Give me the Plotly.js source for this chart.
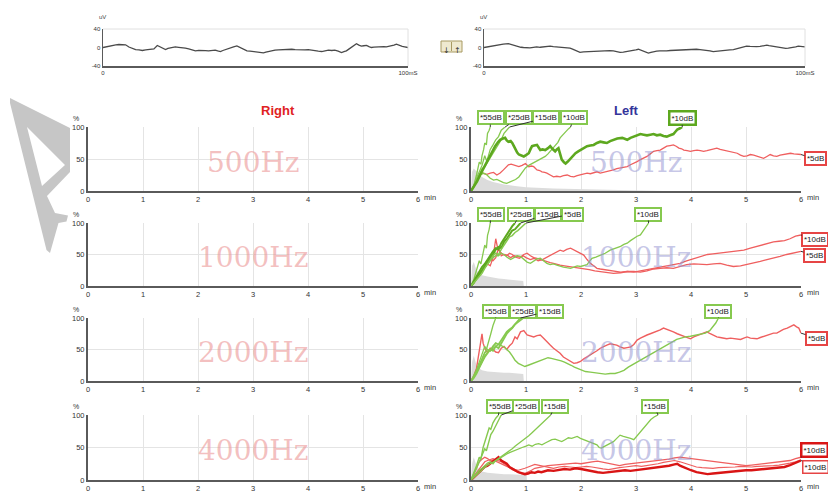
<!DOCTYPE html>
<html><head><meta charset="utf-8">
<script src="https://cdn.plot.ly/plotly-3.0.1.min.js"></script>
<style>html,body{margin:0;padding:0;background:#fff;}#chart{width:828px;height:492px;}</style>
</head><body><div id="chart"></div>
<script>
// ---------------- DATA ----------------
// EEG traces: [ms, uV]
const eegLeft = [[0,0],[1.5,2.5],[3.1,4.4],[4.2,5.5],[5.2,6.5],[6.3,6.0],[7.4,5.8],[8.5,1.0],[9.6,-2.5],[10.7,-4.4],[11.8,-5.2],[12.9,-6.5],[14.0,-5.0],[15.0,-4.4],[16.0,-3.5],[16.7,-2.9],[17.8,4.4],[18.6,2.0],[19.4,0],[20.5,-4.4],[21.3,-2.0],[22.1,-0.7],[23.0,0.5],[23.7,1.5],[24.8,0.5],[25.9,0],[27.0,-1.5],[28.1,-2.9],[29.2,-5.5],[30.3,-7.3],[31.4,-6.0],[32.5,-5.8],[33.6,-6.8],[34.6,-7.3],[35.7,-6.0],[36.8,-5.8],[37.6,-7.5],[38.5,-8.7],[39.3,-6.5],[40.1,-4.4],[40.9,-3.0],[41.7,-1.5],[42.8,1.5],[43.9,3.6],[44.7,1.0],[45.5,-1.5],[46.3,-4.5],[47.2,-7.3],[48.2,-8.0],[49.3,-8.7],[50.1,-10.0],[51.0,-10.9],[51.8,-11.8],[52.6,-11.6],[53.4,-10.0],[54.2,-8.7],[55.3,-7.0],[56.4,-5.8],[57.5,-5.0],[58.6,-4.4],[59.7,-3.5],[60.8,-2.9],[61.9,-3.8],[63.0,-4.4],[64.0,-5.0],[65.1,-5.8],[66.2,-5.0],[67.3,-4.4],[68.4,-6.0],[69.5,-7.3],[70.6,-8.0],[71.7,-8.7],[72.8,-7.0],[73.9,-5.8],[75.0,-6.5],[76.0,-5.8],[77.1,-8.0],[78.2,-10.9],[79.0,-9.0],[79.8,-7.3],[80.6,-3.5],[81.5,0],[82.3,4.0],[83.1,8.0],[83.9,5.0],[84.7,2.9],[85.5,3.8],[86.4,4.4],[87.2,2.0],[88.0,0],[88.8,1.0],[89.7,1.5],[90.5,2.0],[91.3,2.9],[92.1,2.0],[92.9,1.5],[93.7,2.5],[94.6,2.9],[95.4,5.0],[96.2,7.3],[96.8,5.5],[97.3,4.4],[98.1,2.5],[98.9,1.5],[100,0]];
const eegRight = [[0,0],[1.0,1.5],[1.9,3.0],[3.0,4.0],[3.9,5.3],[5.0,6.0],[6.0,7.5],[7.6,8.3],[8.4,6.5],[9.1,4.5],[10.7,1.5],[11.5,0.5],[12.3,0],[13.3,-0.5],[14.3,-0.8],[15.4,0.5],[16.4,1.5],[17.5,0.5],[18.5,1.5],[19.6,2.0],[20.6,3.0],[21.6,2.0],[22.6,1.5],[23.7,0.5],[24.7,0],[25.8,-0.5],[26.8,-1.5],[27.6,-3.5],[28.3,-6.0],[29.1,-8.5],[29.9,-10.6],[31.0,-9.5],[32.0,-9.1],[33.0,-8.0],[34.1,-7.5],[35.1,-8.5],[36.1,-8.3],[37.2,-7.0],[38.2,-6.0],[39.2,-6.8],[40.3,-7.5],[41.3,-9.0],[42.4,-10.6],[43.4,-10.0],[44.4,-9.1],[45.5,-7.5],[46.5,-6.0],[47.3,-5.0],[48.1,-3.8],[48.9,-6.0],[49.6,-9.1],[50.4,-11.0],[51.2,-12.1],[52.0,-10.5],[52.8,-9.1],[53.8,-8.0],[54.8,-7.5],[55.9,-8.0],[56.9,-7.5],[58.0,-6.5],[59.0,-6.0],[60.0,-6.8],[61.1,-6.0],[62.1,-5.5],[63.1,-5.3],[64.2,-4.0],[65.2,-3.0],[66.2,-3.8],[67.3,-4.5],[68.3,-5.0],[69.4,-6.0],[70.4,-7.5],[71.4,-9.1],[72.5,-8.0],[73.5,-7.5],[74.5,-6.5],[75.6,-6.0],[76.6,-5.0],[77.7,-4.5],[78.7,-2.5],[79.8,-0.8],[80.8,1.0],[81.8,3.0],[82.9,2.5],[83.9,3.0],[84.9,2.0],[86.0,2.3],[87.0,3.5],[88.1,5.3],[88.8,4.0],[89.6,3.0],[90.4,1.5],[91.2,0],[92.2,-1.0],[93.3,-2.3],[94.0,-2.0],[94.8,-1.5],[95.6,-0.8],[96.4,0],[97.1,1.5],[97.9,3.0],[99.0,2.0],[100,1.5]];

const freqLabels = ['500Hz','1000Hz','2000Hz','4000Hz'];
const xTicks = [0,1,2,3,4,5,6];
const yTicks = [0,50,100];

// Left ear, 500 Hz: [min, %]
const noise500 = [[0,0],[0.02,30],[0.05,35],[0.1,30],[0.15,26],[0.2,22],[0.3,17],[0.4,14],[0.5,12],[0.6,10],[0.8,8],[1.0,6],[1.5,4],[2.0,3],[2.5,2],[3.0,1],[3.5,0]];
const g55_500 = [[0,0],[0.05,8],[0.1,25],[0.13,35],[0.15,45],[0.18,42],[0.2,55],[0.23,65],[0.25,75],[0.28,72],[0.3,90],[0.33,95],[0.35,100]];
const g25_500 = [[0,0],[0.05,8],[0.1,20],[0.15,30],[0.2,40],[0.25,55],[0.28,48],[0.3,50],[0.35,65],[0.4,72],[0.45,80],[0.5,85],[0.55,95],[0.62,100]];
const g15_500 = [[0,0],[0.05,6],[0.1,15],[0.15,25],[0.2,35],[0.25,38],[0.3,45],[0.35,52],[0.4,60],[0.45,66],[0.5,75],[0.55,80],[0.6,90],[0.65,95],[0.7,100]];
const g10a_500 = [[0,0],[0.08,12],[0.17,25],[0.23,28],[0.29,25],[0.35,20],[0.41,17],[0.47,18],[0.53,15],[0.59,13],[0.65,12],[0.7,14],[0.75,15],[0.81,18],[0.87,22],[0.93,30],[0.99,36],[1.05,40],[1.11,43],[1.17,45],[1.23,49],[1.29,51],[1.35,54],[1.4,58],[1.44,62],[1.49,66],[1.53,70],[1.58,76],[1.62,83],[1.67,88],[1.72,93],[1.77,97],[1.81,100]];
const g10b_500 = [[0,0],[0.05,7],[0.11,15],[0.17,26],[0.23,36],[0.29,47],[0.35,57],[0.4,64],[0.44,70],[0.49,76],[0.53,80],[0.58,82],[0.62,83],[0.65,79],[0.68,77],[0.72,78],[0.75,75],[0.78,70],[0.81,64],[0.84,60],[0.87,57],[0.92,55],[0.96,54],[1.0,56],[1.05,59],[1.08,65],[1.11,70],[1.15,71],[1.2,72],[1.23,68],[1.26,64],[1.3,65],[1.35,64],[1.4,67],[1.44,70],[1.48,66],[1.53,62],[1.56,65],[1.59,67],[1.62,58],[1.65,49],[1.69,45],[1.72,43],[1.76,46],[1.81,51],[1.86,55],[1.9,59],[1.95,62],[1.99,64],[2.05,67],[2.11,70],[2.17,71],[2.23,72],[2.29,75],[2.35,77],[2.41,76],[2.47,75],[2.53,78],[2.59,80],[2.66,82],[2.75,83],[2.8,81],[2.84,80],[2.9,83],[2.96,85],[3.02,87],[3.08,89],[3.14,88],[3.2,87],[3.26,88],[3.32,89],[3.38,87],[3.44,88],[3.5,86],[3.56,85],[3.62,87],[3.68,89],[3.72,93],[3.75,96],[3.8,98],[3.84,100]];
const r5_500 = [[0,0],[0.05,8],[0.11,17],[0.15,24],[0.2,28],[0.25,27],[0.29,26],[0.35,28],[0.41,29],[0.47,25],[0.53,28],[0.59,33],[0.63,36],[0.68,41],[0.73,42],[0.78,41],[0.83,39],[0.87,38],[0.93,40],[0.99,43],[1.05,38],[1.1,39],[1.14,38],[1.2,33],[1.25,32],[1.29,30],[1.34,29],[1.38,28],[1.44,25],[1.5,22],[1.56,23],[1.62,22],[1.68,24],[1.75,25],[1.81,23],[1.87,22],[1.93,24],[1.99,25],[2.05,27],[2.11,28],[2.17,27],[2.23,29],[2.29,30],[2.35,28],[2.41,29],[2.47,30],[2.53,32],[2.59,33],[2.65,35],[2.72,36],[2.78,37],[2.84,38],[2.9,41],[2.96,43],[3.02,46],[3.08,49],[3.14,51],[3.2,54],[3.26,58],[3.32,62],[3.38,63],[3.44,64],[3.5,67],[3.56,70],[3.62,71],[3.68,72],[3.73,70],[3.78,67],[3.83,66],[3.87,64],[3.93,63],[3.99,62],[4.05,63],[4.11,64],[4.17,63],[4.23,62],[4.29,63],[4.35,64],[4.41,66],[4.47,67],[4.53,65],[4.59,64],[4.65,63],[4.71,62],[4.77,60],[4.84,59],[4.9,56],[4.96,54],[5.02,55],[5.08,57],[5.14,56],[5.2,54],[5.26,53],[5.32,51],[5.38,54],[5.44,57],[5.5,55],[5.56,54],[5.62,56],[5.68,57],[5.75,58],[5.81,59],[5.87,58],[5.93,57],[6.0,57]];

// Left ear, 1000 Hz
const noise1000 = [[0,0],[0.02,32],[0.05,38],[0.1,25],[0.15,20],[0.2,17],[0.3,15],[0.4,13],[0.5,12],[0.6,11],[0.7,10],[0.8,9],[0.9,8],[0.95,8],[0.96,0]];
const g55_1000 = [[0,0],[0.05,10],[0.1,25],[0.15,40],[0.18,35],[0.22,55],[0.25,65],[0.28,60],[0.3,80],[0.33,90],[0.35,100]];
const g25_1000 = [[0,0],[0.05,8],[0.1,15],[0.15,22],[0.2,30],[0.25,35],[0.3,42],[0.35,48],[0.4,55],[0.45,60],[0.5,58],[0.55,68],[0.6,75],[0.65,80],[0.7,88],[0.75,95],[0.8,100]];
const g15_1000 = [[0,0],[0.05,5],[0.1,12],[0.15,18],[0.2,25],[0.25,30],[0.3,38],[0.35,45],[0.4,50],[0.45,58],[0.5,62],[0.55,60],[0.6,70],[0.65,75],[0.7,82],[0.75,88],[0.8,90],[0.85,95],[0.9,100]];
const g5_1000 = [[0,0],[0.05,6],[0.1,10],[0.15,15],[0.2,20],[0.25,28],[0.3,35],[0.35,40],[0.4,48],[0.45,52],[0.5,50],[0.55,58],[0.6,65],[0.65,72],[0.7,78],[0.75,80],[0.8,85],[0.85,88],[0.9,92],[0.95,96],[1.0,100]];
const g10_1000 = [[0,0],[0.05,5],[0.1,12],[0.15,18],[0.2,25],[0.25,30],[0.3,35],[0.35,40],[0.4,45],[0.45,48],[0.5,48],[0.55,52],[0.6,50],[0.65,46],[0.72,42],[0.78,45],[0.84,48],[0.9,47],[0.96,42],[1.02,38],[1.08,36],[1.14,40],[1.2,43],[1.26,44],[1.32,40],[1.38,36],[1.44,34],[1.5,35],[1.56,33],[1.62,31],[1.68,30],[1.74,29],[1.81,28],[1.87,30],[1.93,32],[1.99,31],[2.05,33],[2.11,34],[2.16,40],[2.2,44],[2.27,46],[2.35,49],[2.44,52],[2.53,57],[2.6,59],[2.66,61],[2.72,63],[2.78,66],[2.84,68],[2.9,72],[2.96,76],[3.02,79],[3.08,81],[3.14,89],[3.19,95],[3.23,100]];
const r10_1000 = [[0,0],[0.05,5],[0.1,12],[0.15,18],[0.2,22],[0.25,30],[0.3,35],[0.35,32],[0.4,45],[0.45,75],[0.48,62],[0.52,55],[0.58,50],[0.65,48],[0.7,52],[0.75,50],[0.8,46],[0.88,44],[0.95,48],[1.0,45],[1.08,42],[1.15,44],[1.22,40],[1.3,42],[1.38,46],[1.44,49],[1.5,52],[1.56,55],[1.62,57],[1.68,55],[1.74,58],[1.81,60],[1.87,57],[1.93,55],[1.99,52],[2.05,49],[2.11,42],[2.17,36],[2.23,32],[2.29,28],[2.35,27],[2.44,26],[2.53,24],[2.62,23],[2.72,22],[2.84,23],[2.96,22],[3.08,24],[3.2,26],[3.32,28],[3.44,31],[3.56,32],[3.68,34],[3.8,36],[3.92,40],[4.0,42],[4.1,45],[4.2,47],[4.3,50],[4.4,51],[4.5,52],[4.6,54],[4.72,55],[4.84,56],[4.96,57],[5.08,60],[5.2,63],[5.3,66],[5.4,68],[5.5,70],[5.6,71],[5.7,72],[5.8,75],[5.9,79],[6.0,81]];
const r5_1000 = [[0,0],[0.05,6],[0.1,14],[0.15,20],[0.2,25],[0.25,32],[0.3,38],[0.35,42],[0.4,40],[0.45,45],[0.5,60],[0.55,48],[0.6,50],[0.66,49],[0.72,45],[0.78,48],[0.84,47],[0.9,46],[0.96,50],[1.02,52],[1.08,48],[1.14,45],[1.2,44],[1.26,42],[1.32,40],[1.38,39],[1.44,37],[1.5,36],[1.56,34],[1.62,33],[1.7,32],[1.78,31],[1.87,30],[1.95,29],[2.05,28],[2.15,26],[2.25,24],[2.35,23],[2.47,21],[2.59,20],[2.72,21],[2.84,23],[2.96,23],[3.08,22],[3.2,24],[3.32,27],[3.44,28],[3.56,29],[3.68,28],[3.8,31],[3.92,34],[4.05,35],[4.17,34],[4.29,34],[4.41,35],[4.53,36],[4.65,33],[4.77,31],[4.9,32],[5.02,34],[5.14,37],[5.26,39],[5.38,42],[5.5,44],[5.62,47],[5.74,50],[5.86,52],[6.0,55]];

// Left ear, 2000 Hz
const noise2000 = [[0,0],[0.02,30],[0.05,40],[0.1,25],[0.15,20],[0.2,17],[0.3,15],[0.4,14],[0.5,14],[0.6,13],[0.7,13],[0.8,12],[0.9,11],[0.95,11],[0.96,0]];
const g55_2000 = [[0,0],[0.05,8],[0.1,18],[0.15,30],[0.2,42],[0.25,55],[0.28,50],[0.32,65],[0.36,75],[0.4,88],[0.45,100]];
const g25_2000 = [[0,0],[0.05,6],[0.1,15],[0.15,25],[0.2,35],[0.25,45],[0.3,50],[0.35,48],[0.4,55],[0.45,60],[0.5,58],[0.55,65],[0.6,72],[0.65,78],[0.7,82],[0.75,85],[0.8,90],[0.85,93],[0.9,97],[0.95,100]];
const g15_2000 = [[0,0],[0.05,5],[0.1,12],[0.15,22],[0.2,30],[0.25,38],[0.3,45],[0.35,50],[0.4,48],[0.45,55],[0.5,52],[0.55,60],[0.6,68],[0.65,75],[0.7,80],[0.75,84],[0.8,90],[0.85,95],[0.9,100]];
const g10_2000 = [[0,0],[0.05,6],[0.1,15],[0.15,22],[0.2,30],[0.25,40],[0.3,45],[0.35,50],[0.4,52],[0.45,55],[0.5,58],[0.55,56],[0.6,54],[0.65,50],[0.7,46],[0.75,40],[0.8,33],[0.86,28],[0.92,25],[0.98,23],[1.04,25],[1.1,27],[1.16,28],[1.22,30],[1.28,33],[1.34,35],[1.4,37],[1.46,36],[1.52,35],[1.58,33],[1.64,32],[1.7,30],[1.76,28],[1.82,25],[1.88,22],[1.94,20],[2.0,17],[2.08,15],[2.17,14],[2.26,13],[2.35,12],[2.44,11],[2.53,12],[2.62,12],[2.7,14],[2.78,17],[2.86,22],[2.94,26],[3.02,30],[3.1,34],[3.18,38],[3.26,42],[3.34,46],[3.42,50],[3.5,54],[3.58,58],[3.66,62],[3.74,66],[3.82,68],[3.9,70],[3.99,71],[4.08,73],[4.17,74],[4.26,76],[4.34,80],[4.4,86],[4.45,92],[4.5,100]];
const r5_2000 = [[0,0],[0.05,8],[0.1,20],[0.13,35],[0.15,50],[0.18,65],[0.2,75],[0.22,60],[0.26,50],[0.3,45],[0.35,52],[0.4,50],[0.45,46],[0.5,45],[0.55,52],[0.6,55],[0.65,50],[0.7,56],[0.75,60],[0.8,70],[0.84,67],[0.9,78],[0.96,80],[1.02,73],[1.08,72],[1.14,70],[1.2,72],[1.26,73],[1.32,68],[1.38,62],[1.44,57],[1.5,52],[1.56,48],[1.62,44],[1.68,38],[1.74,35],[1.8,32],[1.87,28],[1.93,29],[1.99,31],[2.05,35],[2.11,38],[2.17,41],[2.23,45],[2.29,48],[2.35,52],[2.41,55],[2.47,57],[2.53,59],[2.59,58],[2.65,57],[2.71,54],[2.78,52],[2.84,53],[2.9,54],[2.96,58],[3.02,65],[3.08,68],[3.14,71],[3.2,73],[3.26,75],[3.32,77],[3.38,78],[3.44,81],[3.5,84],[3.56,82],[3.62,81],[3.68,78],[3.75,75],[3.81,73],[3.87,70],[3.93,69],[3.99,67],[4.05,70],[4.11,72],[4.17,73],[4.23,76],[4.29,78],[4.35,75],[4.41,72],[4.47,70],[4.53,69],[4.59,68],[4.65,67],[4.72,68],[4.78,67],[4.84,67],[4.9,66],[4.96,68],[5.02,70],[5.08,68],[5.14,68],[5.2,67],[5.26,69],[5.32,71],[5.38,73],[5.44,74],[5.5,76],[5.56,76],[5.62,79],[5.68,82],[5.75,84],[5.81,86],[5.87,89],[5.92,86],[5.96,84],[6.0,76]];

// Left ear, 4000 Hz
const noise4000 = [[0,0],[0.02,25],[0.05,35],[0.1,22],[0.15,16],[0.2,13],[0.3,11],[0.4,10],[0.5,10],[0.6,9],[0.7,9],[0.8,8],[0.9,8],[1.0,8],[1.01,0]];
const g55_4000 = [[0,0],[0.05,10],[0.1,22],[0.15,35],[0.18,32],[0.22,50],[0.26,60],[0.3,70],[0.33,80],[0.36,78],[0.4,88],[0.45,95],[0.5,100]];
const g25_4000 = [[0,0],[0.05,8],[0.1,18],[0.15,28],[0.2,38],[0.25,48],[0.28,45],[0.32,60],[0.36,70],[0.4,75],[0.44,82],[0.48,90],[0.52,95],[0.55,100]];
const g15a_4000 = [[0,0],[0.05,5],[0.1,10],[0.15,15],[0.2,18],[0.25,22],[0.3,26],[0.35,28],[0.4,25],[0.45,30],[0.5,33],[0.55,35],[0.6,38],[0.65,42],[0.7,44],[0.75,48],[0.8,52],[0.85,55],[0.9,58],[0.95,62],[1.0,65],[1.05,68],[1.1,72],[1.15,76],[1.2,80],[1.25,84],[1.3,88],[1.35,92],[1.4,96],[1.45,100]];
const g15b_4000 = [[0,0],[0.05,4],[0.1,8],[0.15,12],[0.2,16],[0.25,20],[0.3,23],[0.35,25],[0.4,28],[0.45,30],[0.5,32],[0.55,35],[0.6,38],[0.65,40],[0.7,42],[0.75,44],[0.8,46],[0.87,48],[0.93,50],[1.0,52],[1.05,54],[1.11,52],[1.17,55],[1.23,56],[1.29,54],[1.35,57],[1.41,60],[1.47,62],[1.53,63],[1.59,61],[1.65,59],[1.71,62],[1.77,65],[1.83,64],[1.89,66],[1.93,67],[1.99,64],[2.05,62],[2.11,60],[2.17,58],[2.23,56],[2.29,54],[2.33,50],[2.37,49],[2.41,51],[2.47,54],[2.53,57],[2.59,59],[2.65,64],[2.71,69],[2.77,67],[2.83,66],[2.9,64],[2.96,62],[3.02,68],[3.08,74],[3.14,80],[3.2,87],[3.27,93],[3.33,97],[3.4,100]];
const r10thick_4000 = [[0,0],[0.05,4],[0.1,8],[0.15,12],[0.2,16],[0.25,20],[0.3,22],[0.35,25],[0.4,28],[0.45,32],[0.5,35],[0.55,30],[0.6,28],[0.65,25],[0.7,20],[0.75,17],[0.8,15],[0.86,12],[0.92,10],[0.98,9],[1.04,10],[1.1,12],[1.16,11],[1.22,13],[1.28,12],[1.34,14],[1.4,15],[1.5,14],[1.6,16],[1.7,17],[1.8,16],[1.9,18],[2.0,17],[2.1,15],[2.2,14],[2.3,12],[2.4,11],[2.5,12],[2.6,13],[2.7,14],[2.8,15],[2.9,14],[3.0,15],[3.1,16],[3.2,17],[3.3,18],[3.4,19],[3.5,20],[3.6,22],[3.7,24],[3.75,25],[3.8,22],[3.9,18],[4.0,15],[4.1,12],[4.2,10],[4.3,9],[4.4,10],[4.5,11],[4.6,12],[4.7,12],[4.8,13],[4.9,14],[5.0,15],[5.1,15],[5.2,16],[5.3,16],[5.4,17],[5.5,18],[5.6,19],[5.7,20],[5.8,23],[5.9,26],[6.0,30]];
const r10a_4000 = [[0,0],[0.05,10],[0.1,20],[0.15,28],[0.2,32],[0.25,35],[0.3,33],[0.35,30],[0.4,31],[0.45,29],[0.5,28],[0.55,26],[0.6,24],[0.65,22],[0.7,19],[0.75,16],[0.8,14],[0.86,12],[0.92,10],[0.98,10],[1.04,12],[1.1,15],[1.16,18],[1.22,19],[1.28,21],[1.34,22],[1.4,22],[1.5,23],[1.6,24],[1.7,24],[1.8,25],[1.9,26],[2.0,25],[2.1,27],[2.2,28],[2.3,29],[2.4,27],[2.5,25],[2.6,23],[2.7,22],[2.8,24],[2.9,25],[3.0,26],[3.1,27],[3.2,27],[3.3,28],[3.4,29],[3.5,30],[3.6,32],[3.7,34],[3.8,35],[3.9,34],[4.0,33],[4.1,32],[4.2,31],[4.3,30],[4.4,29],[4.5,28],[4.6,27],[4.7,26],[4.8,24],[4.9,23],[5.0,22],[5.1,23],[5.2,24],[5.3,25],[5.4,25],[5.5,26],[5.6,27],[5.7,28],[5.8,30],[5.9,33],[6.0,35]];
const r10b_4000 = [[0,0],[0.05,6],[0.1,12],[0.15,18],[0.2,24],[0.25,28],[0.3,30],[0.35,32],[0.4,33],[0.45,31],[0.5,30],[0.55,28],[0.6,25],[0.65,22],[0.7,20],[0.75,18],[0.8,16],[0.86,15],[0.92,16],[0.98,18],[1.04,20],[1.1,22],[1.16,24],[1.22,23],[1.28,22],[1.34,20],[1.4,19],[1.5,18],[1.6,20],[1.7,21],[1.8,20],[1.9,19],[2.0,20],[2.1,21],[2.2,20],[2.3,18],[2.4,17],[2.5,16],[2.6,18],[2.7,19],[2.8,20],[2.9,21],[3.0,22],[3.1,21],[3.2,22],[3.3,24],[3.4,25],[3.5,27],[3.6,28],[3.7,30],[3.8,28],[3.9,25],[4.0,22],[4.1,20],[4.2,19],[4.3,18],[4.4,18],[4.5,19],[4.6,19],[4.7,20],[4.8,20],[4.9,21],[5.0,20],[5.1,20],[5.2,21],[5.3,21],[5.4,22],[5.5,22],[5.6,23],[5.7,24],[5.8,26],[5.9,28],[6.0,31]];

// ---------------- LAYOUT HELPERS ----------------
const W = 828, H = 492;
const fx = p => p / W;
const fy = p => 1 - p / H;
const colRight = {x0: 88, x1: 418};
const colLeft = {x0: 471, x1: 801};
const rows = [{t: 127, b: 191}, {t: 223, b: 286}, {t: 318, b: 381}, {t: 415, b: 480}];
const eegL = {x0: 103, x1: 408, t: 29, b: 66};
const eegR = {x0: 484, x1: 805, t: 29, b: 66};

const C = {
  gThin: '#86c94f', gThick: '#5da81f', rThin: '#ef5f5f', rThick: '#d91515',
  gBox: '#86c94f', rBox: '#e64545'
};
const fontTick = {family: 'Liberation Sans, Arial, sans-serif', size: 7.5, color: '#333'};
const fontLab = {family: 'Liberation Sans, Arial, sans-serif', size: 8, color: '#222'};

const xy = a => ({x: a.map(p => p[0]), y: a.map(p => p[1])});

const traces = [];
const layout = {
  width: W, height: H, margin: {l: 0, r: 0, t: 0, b: 0},
  paper_bgcolor: '#fff', plot_bgcolor: 'rgba(0,0,0,0)', showlegend: false,
  annotations: [], shapes: []
};

function panelAxes(n, col, row) {
  layout['xaxis' + n] = {
    domain: [fx(col.x0), fx(col.x1)], anchor: 'y' + n, range: [0, 6],
    tickvals: xTicks, ticktext: xTicks.map(String), ticks: '', ticklabelstandoff: 0,
    showline: true, linecolor: '#5a5a5a', linewidth: 2,
    showgrid: true, gridcolor: '#e4e4e4', gridwidth: 1, zeroline: false,
    tickfont: fontTick, fixedrange: true
  };
  layout['yaxis' + n] = {
    domain: [fy(row.b), fy(row.t)], anchor: 'x' + n, range: [0, 100],
    tickvals: yTicks, ticktext: yTicks.map(String), ticks: '',
    showline: true, linecolor: '#5a5a5a', linewidth: 2,
    showgrid: true, gridcolor: '#e4e4e4', gridwidth: 1, zeroline: false,
    tickfont: fontTick, fixedrange: true
  };
  // an empty trace so the axes are drawn even without data
  traces.push({type: 'scatter', mode: 'lines', x: [], y: [], xaxis: 'x' + n, yaxis: 'y' + n, hoverinfo: 'skip'});
  layout.annotations.push({xref: 'paper', yref: 'paper', x: fx(col.x1 + 4), y: fy(row.b + 6),
    xanchor: 'left', yanchor: 'middle', text: 'min', showarrow: false, font: fontTick});
  layout.annotations.push({xref: 'paper', yref: 'paper', x: fx(col.x0 - 12), y: fy(row.t - 9),
    xanchor: 'center', yanchor: 'middle', text: '%', showarrow: false, font: {family: fontTick.family, size: 7, color: '#333'}});
}

function eegAxes(n, box) {
  const s = n === 1 ? '' : String(n);
  layout['xaxis' + s] = {
    domain: [fx(box.x0), fx(box.x1)], anchor: 'y' + s, range: [0, 100],
    tickvals: [0, 100], ticktext: ['0', '100mS'], ticks: '',
    showline: true, linecolor: '#5a5a5a', linewidth: 1.5, showgrid: false, zeroline: false,
    tickfont: {family: fontTick.family, size: 6, color: '#333'}, fixedrange: true
  };
  layout['yaxis' + s] = {
    domain: [fy(box.b), fy(box.t)], anchor: 'x' + s, range: [-40, 40],
    tickvals: [-40, 0, 40], ticktext: ['-40', '0', '40'], ticks: '',
    showline: true, linecolor: '#5a5a5a', linewidth: 1.5, showgrid: false, zeroline: false,
    tickfont: {family: fontTick.family, size: 6, color: '#333'}, fixedrange: true
  };
  layout.shapes.push({type: 'line', xref: 'x' + s + ' domain', yref: 'y' + s + ' domain', x0: 0, x1: 1, y0: 1, y1: 1, line: {color: '#e0e0e0', width: 1}});
  layout.shapes.push({type: 'line', xref: 'x' + s + ' domain', yref: 'y' + s + ' domain', x0: 1, x1: 1, y0: 0, y1: 1, line: {color: '#e0e0e0', width: 1}});
  layout.annotations.push({xref: 'paper', yref: 'paper', x: fx(box.x0 - 6), y: fy(box.t - 12), xanchor: 'left', yanchor: 'middle',
    text: 'uV', showarrow: false, font: {family: fontTick.family, size: 6, color: '#444'}});
}

// EEG panels
eegAxes(1, eegL);
eegAxes(2, eegR);
traces.push(Object.assign(xy(eegLeft), {type: 'scatter', mode: 'lines', xaxis: 'x', yaxis: 'y', line: {color: '#4a4a4a', width: 1.3}, hoverinfo: 'skip'}));
traces.push(Object.assign(xy(eegRight), {type: 'scatter', mode: 'lines', xaxis: 'x2', yaxis: 'y2', line: {color: '#4a4a4a', width: 1.3}, hoverinfo: 'skip'}));

// panels: right ear = axes 3..6, left ear = axes 7..10
for (let i = 0; i < 4; i++) {
  panelAxes(3 + i, colRight, rows[i]);
  panelAxes(7 + i, colLeft, rows[i]);
  layout.annotations.push({xref: 'x' + (3 + i) + ' domain', yref: 'y' + (3 + i) + ' domain', x: 0.5, y: 0.45,
    text: freqLabels[i], showarrow: false, xanchor: 'center', yanchor: 'middle',
    font: {family: 'DejaVu Serif, Liberation Serif, serif', size: 28, color: 'rgba(236,150,150,0.6)'}});
  layout.annotations.push({xref: 'x' + (7 + i) + ' domain', yref: 'y' + (7 + i) + ' domain', x: 0.5, y: 0.45,
    text: freqLabels[i], showarrow: false, xanchor: 'center', yanchor: 'middle',
    font: {family: 'DejaVu Serif, Liberation Serif, serif', size: 28, color: 'rgba(150,150,210,0.55)'}});
}

// left ear curves per panel
const leftPanels = [
  {noise: noise500, curves: [
    {d: r5_500, c: C.rThin, w: 1.3, lab: '*5dB', box: C.rBox, bw: 2, cx: 815, cy: 159},
    {d: g55_500, c: C.gThin, w: 1.3, lab: '*55dB', box: C.gBox, bw: 2, cx: 490.5, cy: 118},
    {d: g25_500, c: C.gThin, w: 1.3, lab: '*25dB', box: C.gBox, bw: 2, cx: 518.5, cy: 118},
    {d: g15_500, c: C.gThin, w: 1.3, lab: '*15dB', box: C.gBox, bw: 2, cx: 546, cy: 118},
    {d: g10a_500, c: C.gThin, w: 1.3, lab: '*10dB', box: C.gBox, bw: 2, cx: 574, cy: 118},
    {d: g10b_500, c: C.gThick, w: 2.6, lab: '*10dB', box: C.gThick, bw: 2.5, cx: 682.5, cy: 118}
  ]},
  {noise: noise1000, curves: [
    {d: r10_1000, c: C.rThin, w: 1.3, lab: '*10dB', box: C.rBox, bw: 2, cx: 815, cy: 239},
    {d: r5_1000, c: C.rThin, w: 1.3, lab: '*5dB', box: C.rBox, bw: 2, cx: 814, cy: 255},
    {d: g10_1000, c: C.gThin, w: 1.3, lab: '*10dB', box: C.gBox, bw: 2, cx: 647.5, cy: 214},
    {d: g55_1000, c: C.gThin, w: 1.3, lab: '*55dB', box: C.gBox, bw: 2, cx: 491, cy: 214},
    {d: g25_1000, c: C.gThick, w: 2, lab: '*25dB', box: C.gBox, bw: 2, cx: 520.5, cy: 214},
    {d: g15_1000, c: C.gThick, w: 2, lab: '*15dB', box: C.gBox, bw: 2, cx: 547.5, cy: 214},
    {d: g5_1000, c: C.gThin, w: 1.5, lab: '*5dB', box: C.gBox, bw: 2, cx: 572.5, cy: 214}
  ]},
  {noise: noise2000, curves: [
    {d: r5_2000, c: C.rThin, w: 1.4, lab: '*5dB', box: C.rBox, bw: 2, cx: 816, cy: 338},
    {d: g10_2000, c: C.gThin, w: 1.4, lab: '*10dB', box: C.gBox, bw: 2, cx: 717.5, cy: 311},
    {d: g55_2000, c: C.gThin, w: 1.3, lab: '*55dB', box: C.gBox, bw: 2, cx: 495.5, cy: 311},
    {d: g25_2000, c: C.gThin, w: 1.8, lab: '*25dB', box: C.gBox, bw: 2, cx: 522.5, cy: 311},
    {d: g15_2000, c: C.gThin, w: 1.8, lab: '*15dB', box: C.gBox, bw: 2, cx: 549.5, cy: 311}
  ]},
  {noise: noise4000, curves: [
    {d: r10b_4000, c: C.rThin, w: 1.2, lab: null},
    {d: r10a_4000, c: C.rThin, w: 1.3, lab: '*10dB', box: C.rThick, bw: 2.5, cx: 814.5, cy: 450},
    {d: r10thick_4000, c: C.rThick, w: 2.4, lab: '*10dB', box: C.rBox, bw: 1.5, cx: 815, cy: 467},
    {d: g55_4000, c: C.gThin, w: 1.4, lab: '*55dB', box: C.gBox, bw: 2, cx: 499.5, cy: 406},
    {d: g25_4000, c: C.gThin, w: 1.4, lab: '*25dB', box: C.gBox, bw: 2, cx: 525.5, cy: 406},
    {d: g15a_4000, c: C.gThin, w: 1.3, lab: '*15dB', box: C.gBox, bw: 2, cx: 555, cy: 406},
    {d: g15b_4000, c: C.gThin, w: 1.3, lab: '*15dB', box: C.gBox, bw: 2, cx: 654.5, cy: 406}
  ]}
];

leftPanels.forEach((p, i) => {
  const n = 7 + i, row = rows[i], col = colLeft;
  traces.push(Object.assign(xy(p.noise), {type: 'scatter', mode: 'lines', xaxis: 'x' + n, yaxis: 'y' + n,
    fill: 'tozeroy', fillcolor: '#dcdcdc', line: {width: 0, color: '#dcdcdc'}, hoverinfo: 'skip'}));
  p.curves.forEach(cv => {
    traces.push(Object.assign(xy(cv.d), {type: 'scatter', mode: 'lines', xaxis: 'x' + n, yaxis: 'y' + n,
      line: {color: cv.c, width: cv.w}, hoverinfo: 'skip'}));
    if (cv.lab) {
      const last = cv.d[cv.d.length - 1];
      const px = col.x0 + (col.x1 - col.x0) * last[0] / 6;
      const py = row.b - (row.b - row.t) * last[1] / 100;
      layout.annotations.push({xref: 'x' + n, yref: 'y' + n, x: last[0], y: last[1], text: cv.lab,
        showarrow: true, arrowhead: 0, arrowwidth: 1, arrowcolor: '#333', ax: cv.cx - px, ay: cv.cy - py,
        bgcolor: '#ffffff', bordercolor: cv.box, borderwidth: cv.bw, borderpad: 1,
        font: fontLab});
    }
  });
});

// titles
layout.annotations.push({xref: 'paper', yref: 'paper', x: fx(259), y: fy(101), text: '<b>Right</b>', showarrow: false,
  font: {family: 'Liberation Sans, Arial, sans-serif', size: 13, color: '#e02222'}});
layout.annotations.push({xref: 'paper', yref: 'paper', x: fx(641), y: fy(101), text: '<b>Left</b>', showarrow: false,
  font: {family: 'Liberation Sans, Arial, sans-serif', size: 13, color: '#34349a'}});

// swap buttons
layout.shapes.push({type: 'rect', xref: 'paper', yref: 'paper', x0: fx(441), x1: fx(462), y0: fy(52), y1: fy(41),
  fillcolor: '#efe9cf', line: {color: '#a89a62', width: 1}});
layout.shapes.push({type: 'line', xref: 'paper', yref: 'paper', x0: fx(451.5), x1: fx(451.5), y0: fy(51), y1: fy(42),
  line: {color: '#a89a62', width: 1}});
layout.annotations.push({xref: 'paper', yref: 'paper', x: fx(446.5), y: fy(44), text: '↓', showarrow: false,
  font: {family: 'DejaVu Sans', size: 8, color: '#333'}});
layout.annotations.push({xref: 'paper', yref: 'paper', x: fx(457), y: fy(44), text: '↑', showarrow: false,
  font: {family: 'DejaVu Sans', size: 8, color: '#333'}});

// watermark logo shape (left edge)
const P = (x, y) => fx(x).toFixed(5) + ',' + fy(y).toFixed(5);
const outer = [[10, 98], [70, 128], [70, 172], [47, 196], [55, 213], [68, 215.5], [66.5, 221.5], [58.5, 223], [50, 253], [46.5, 250], [10, 103]];
const hole = [[27, 127], [42, 186], [65, 165]];
const toPath = pts => 'M' + pts.map(p => P(p[0], p[1])).join(' L') + ' Z';
layout.shapes.push({type: 'path', xref: 'paper', yref: 'paper', path: toPath(outer) + ' ' + toPath(hole),
  fillcolor: '#c6c6c6', fillrule: 'evenodd', line: {width: 0}, layer: 'below'});

Plotly.newPlot('chart', traces, layout, {staticPlot: true, displayModeBar: false});
</script></body></html>
